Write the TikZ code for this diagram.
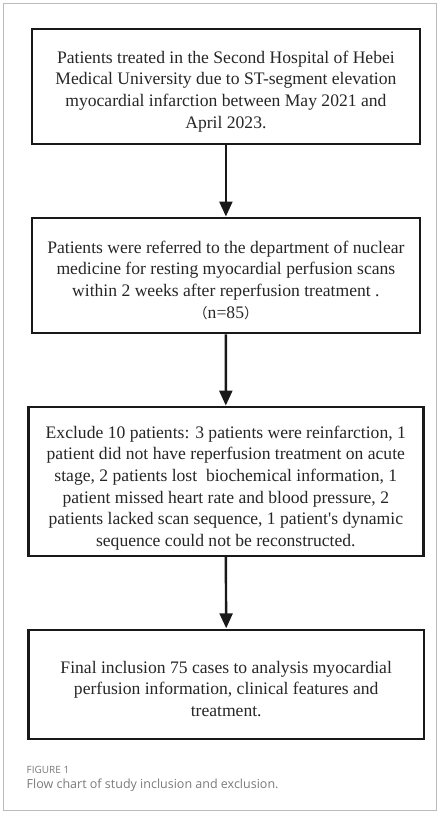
\documentclass[tikz,border=0pt]{standalone}
\usepackage{fontspec}
\setmainfont{Liberation Serif}
\newfontfamily\plainserif{Liberation Serif}[Ligatures=TeXOff]
\newfontfamily\cjk{Noto Sans CJK SC}
\newfontfamily\capfont{Open Sans}
\usetikzlibrary{arrows.meta}
\definecolor{framegray}{HTML}{BBBBBB}
\definecolor{capgray}{HTML}{7A7A7A}
\tikzset{
  flowbox/.style={draw=black!90, line width=2.4pt, inner sep=0pt},
  flowtext/.style={align=center, inner sep=0pt,
    font=\fontsize{17.6}{21.7}\selectfont, text=black!85},
  flowarrow/.style={draw=black!90, line width=2.4pt,
    -{Triangle[length=15pt,width=13pt]}, shorten >=0.5pt},
}
\begin{document}
\begin{tikzpicture}[x=1pt,y=-1pt]
\useasboundingbox (0,0) rectangle (440,814);
\draw[framegray, line width=1pt] (3.5,3.5) rectangle (436.5,810.5);

\node[flowbox, minimum width=388pt, minimum height=115pt] (b1) at (225.9,86.5) {};
\node[flowtext] (t1) at ([yshift=-5pt]b1.center)
  {Patients treated in the Second Hospital of Hebei\\
   Medical University due to ST-segment elevation\\
   myocardial infarction between May 2021 and\\
   April 2023.};

\node[flowbox, minimum width=388pt, minimum height=115pt] (b2) at (225.9,275.7) {};
\node[flowtext] (t2) at ([yshift=-4.5pt]b2.center)
  {Patients were referred to the department of nuclear\\
   medicine for resting myocardial perfusion scans\\
   within 2 weeks after reperfusion treatment .\\
   {\cjk\fontsize{14}{16}\selectfont （}n=85{\cjk\fontsize{14}{16}\selectfont ）}};

\node[flowbox, minimum width=395pt, minimum height=148.5pt] (b3) at (225.8,481.5) {};
\node[flowtext] (t3) at ([yshift=-6.5pt]b3.center)
  {Exclude 10 patients: 3 patients were reinfarction, 1\\
   patient did not have reperfusion treatment on acute\\
   stage, 2 patients lost\ \ biochemical information, 1\\
   patient missed heart rate and blood pressure, 2\\
   patients lacked scan sequence, 1 patient{\plainserif '}s dynamic\\
   sequence could not be reconstructed.};

\node[flowbox, minimum width=395.7pt, minimum height=109pt] (b4) at (226.2,684.5) {};
\node[flowtext] (t4) at ([yshift=-4.5pt]b4.center)
  {Final inclusion 75 cases to analysis myocardial\\
   perfusion information, clinical features and\\
   treatment.};

\draw[flowarrow] (b1.south) -- (b2.north);
\draw[flowarrow] (b2.south) -- (b3.north);
\draw[flowarrow] (b3.south) -- (b4.north);

\node[anchor=west, inner sep=0pt, text=capgray, font=\capfont\fontsize{10}{12}\selectfont] (fig) at (26.5,770) {FIGURE 1};
\node[anchor=west, inner sep=0pt, text=capgray, font=\capfont\fontsize{12.5}{14}\selectfont] (cap) at (26.5,785) {Flow chart of study inclusion and exclusion.};
\end{tikzpicture}
\end{document}
